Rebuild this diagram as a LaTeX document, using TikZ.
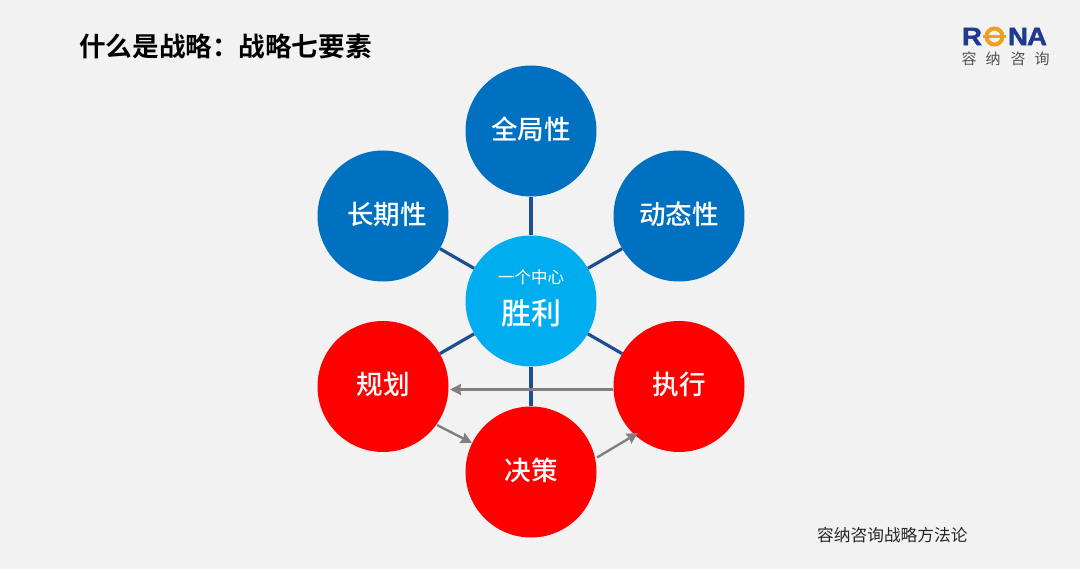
\documentclass[tikz,border=0pt]{standalone}
\usepackage{fontspec}
\setmainfont{Liberation Sans}[BoldFeatures={FakeBold=1.6}]
\newfontfamily\cjk{Noto Sans CJK SC}[BoldFont={Noto Sans CJK SC Bold}]
\newfontfamily\cjkm{Noto Sans CJK SC Medium}
\usetikzlibrary{arrows.meta}
\definecolor{bgc}{HTML}{F2F2F2}
\definecolor{bluec}{HTML}{0070C0}
\definecolor{cyanc}{HTML}{00AEEF}
\definecolor{redc}{HTML}{FF0000}
\definecolor{linkc}{HTML}{1F4E8C}
\definecolor{flowc}{HTML}{808080}
\definecolor{logob}{HTML}{1F3A8F}
\definecolor{logoo}{HTML}{F0A020}
\tikzset{
 x=1pt,y=-1pt,
 ball/.style={circle,minimum size=131pt,inner sep=0pt},
 blueball/.style={ball,fill=bluec},
 redball/.style={ball,fill=redc},
 hub/.style={ball,fill=cyanc},
 balltext/.style={inner sep=0pt,text=white,font=\cjkm\fontsize{26.6}{28}\selectfont},
 link/.style={draw=linkc,line width=3.2pt},
 flow/.style={draw=flowc,line width=2.4pt,-{Stealth[length=11pt,width=11pt,inset=1pt]}},
 logol/.style={inner sep=0pt,text=logob,font=\bfseries\fontsize{25}{25}\selectfont,xscale=1.1},
 logot/.style={anchor=center,inner sep=0pt,text=black!68,font=\cjk\fontsize{15}{16}\selectfont},
}
\begin{document}
\begin{tikzpicture}
\path[fill=bgc] (0,0) rectangle (1080,569);
\useasboundingbox (0,0) rectangle (1080,569);
\node[hub] (c) at (531,301) {};
\node[blueball] (top) at (531,131) {};
\node[blueball] (lu) at (383,216) {};
\node[blueball] (ru) at (679,216) {};
\node[redball] (pl) at (383,386.5) {};
\node[redball] (ex) at (679,386.5) {};
\node[redball] (de) at (531,472) {};
\draw[link] (top) -- (c);
\draw[link] (lu) -- (c);
\draw[link] (ru) -- (c);
\draw[link] (pl) -- (c);
\draw[link] (ex) -- (c);
\draw[link] (de) -- (c);
\node[balltext] (t1) at (531,129) {全局性};
\node[balltext] (t2) at (387,214) {长期性};
\node[balltext] (t3) at (679,214) {动态性};
\node[balltext] (t4) at (383,384) {规划};
\node[balltext] (t5) at (679,384) {执行};
\node[balltext] (t6) at (531,470) {决策};
\node[inner sep=0pt,text=white,font=\cjk\fontsize{16.5}{18}\selectfont] (c1) at (531,277) {一个中心};
\node[inner sep=0pt,text=white,font=\cjkm\fontsize{30}{32}\selectfont] (c2) at (531,313) {胜利};
\coordinate (e1) at (613,389.5);
\coordinate (e2) at (450,389.5);
\coordinate (e3) at (437,425);
\coordinate (e4) at (472,443);
\coordinate (e5) at (597,457.5);
\coordinate (e6) at (638,433);
\draw[flow] (e1) -- (e2);
\draw[flow] (e3) -- (e4);
\draw[flow] (e5) -- (e6);
\node[anchor=west,inner sep=0pt,text=black,font=\cjk\bfseries\fontsize{26.6}{28}\selectfont] (title) at (79,46.5) {什么是战略：战略七要素};
\node[anchor=west,inner sep=0pt,text=black!85,font=\cjk\fontsize{16.7}{18}\selectfont] (foot) at (817,535.5) {容纳咨询战略方法论};
% logo
\node[logol] (lr) at (972,36.5) {R};
\draw[draw=logoo,line width=4pt] (994.5,36.5) circle (8pt);
\path[fill=logoo] (983,34.8) rectangle (1006,38.2);
\node[logol] (ln) at (1018,36.5) {N};
\node[logol] (la) at (1037,36.5) {A};
\node[logot] (lt1) at (969,59) {容};
\node[logot] (lt2) at (993,59) {纳};
\node[logot] (lt3) at (1018,59) {咨};
\node[logot] (lt4) at (1042,59) {询};
\end{tikzpicture}
\end{document}
